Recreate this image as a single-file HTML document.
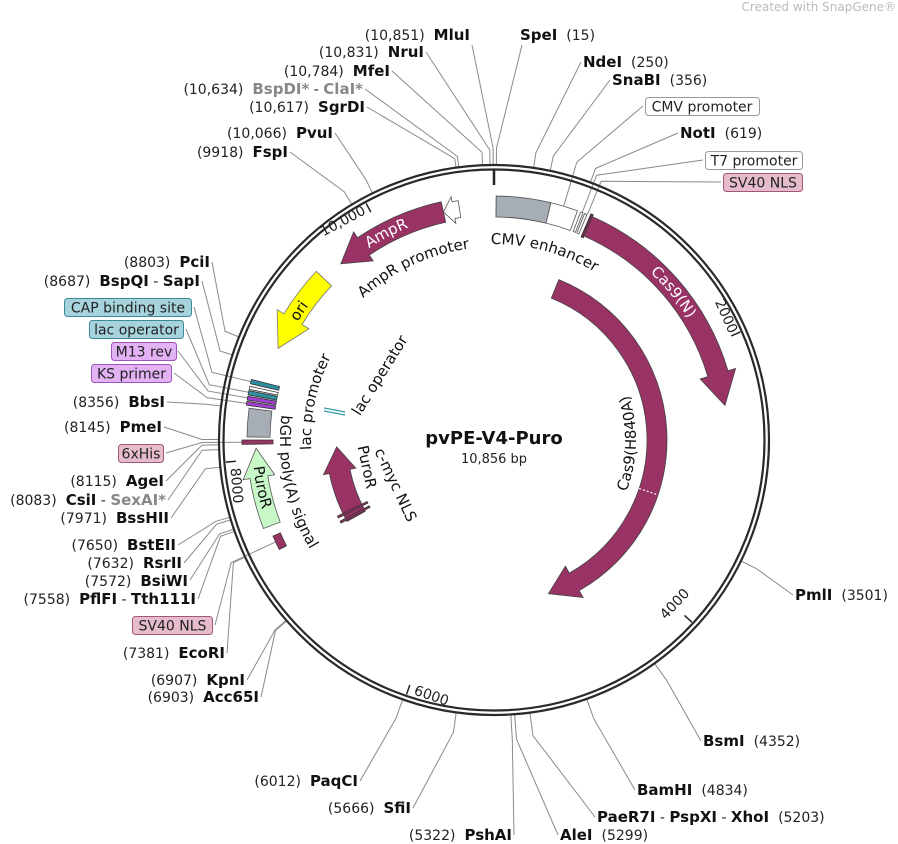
<!DOCTYPE html>
<html><head><meta charset="utf-8">
<style>
html,body{margin:0;padding:0;background:#fff;}
svg{display:block;font-family:"DejaVu Sans","Liberation Sans",sans-serif;}
.n{font-size:14px;fill:#222;}
.b{font-size:15px;font-weight:bold;fill:#111;}
.g{font-size:15px;font-weight:bold;fill:#888;}
.f{font-size:15px;fill:#111;}
.bx{font-size:14px;fill:#222;}
</style></head>
<body>
<svg id="s" width="898" height="844" viewBox="0 0 898 844" xmlns="http://www.w3.org/2000/svg">
<defs>
<path id="tpCMV" d=""/><path id="tpCas" d=""/><path id="tpAmp" d=""/><path id="tpAmpP" d=""/>
<path id="tpOri" d=""/><path id="tpLacP" d=""/><path id="tpBGH" d=""/><path id="tpPuro" d=""/><path id="tpH840" d=""/>
</defs>
<g id="lines" stroke="#8a8a8a" stroke-width="1" fill="none"></g>
<g id="feat"></g>
<circle cx="494" cy="440" r="275" fill="none" stroke="#2a2a2a" stroke-width="2.2"/>
<circle cx="494" cy="440" r="270.5" fill="none" stroke="#2a2a2a" stroke-width="2.2"/>
<g id="ticks" stroke="#222" stroke-width="2"></g>

<text x="896" y="11" text-anchor="end" style="font-size:12px;fill:#bbb">Created with SnapGene®</text>

<text x="494" y="444" text-anchor="middle" style="font-size:18px;font-weight:bold;fill:#111">pvPE-V4-Puro</text>
<text x="494" y="463" text-anchor="middle" style="font-size:13px;fill:#222">10,856 bp</text>

<text class="n" transform="translate(722,318) rotate(66)" text-anchor="middle">2000</text>
<text class="n" transform="translate(678,607) rotate(-47)" text-anchor="middle">4000</text>
<text class="n" transform="translate(430,700) rotate(19)" text-anchor="middle">6000</text>
<text class="n" transform="translate(232,486) rotate(85)" text-anchor="middle">8000</text>
<text class="n" transform="translate(345,225) rotate(-28)" text-anchor="middle">10,000</text>

<text class="f"><textPath href="#tpCMV" startOffset="50%" text-anchor="middle">CMV enhancer</textPath></text>
<text class="f" style="fill:#fff"><textPath href="#tpCas" startOffset="50%" text-anchor="middle">Cas9(N)</textPath></text>
<text class="f" style="fill:#fff"><textPath href="#tpAmp" startOffset="50%" text-anchor="middle">AmpR</textPath></text>
<text class="f"><textPath href="#tpAmpP" startOffset="50%" text-anchor="middle">AmpR promoter</textPath></text>
<text class="f"><textPath href="#tpOri" startOffset="50%" text-anchor="middle">ori</textPath></text>
<text class="f"><textPath href="#tpLacP" startOffset="50%" text-anchor="middle">lac promoter</textPath></text>
<text class="f"><textPath href="#tpBGH" startOffset="50%" text-anchor="middle">bGH poly(A) signal</textPath></text>
<text class="f"><textPath href="#tpPuro" startOffset="50%" text-anchor="middle">PuroR</textPath></text>
<text class="f"><textPath href="#tpH840" startOffset="50%" text-anchor="middle">Cas9(H840A)</textPath></text>
<text class="f" transform="translate(391,487) rotate(65)" text-anchor="middle">c-myc NLS</text>
<text class="f" transform="translate(362,468) rotate(78)" text-anchor="middle">PuroR</text>
<text class="f" transform="translate(384,378) rotate(-58)" text-anchor="middle">lac operator</text>

<text x="470" y="40" text-anchor="end"><tspan class="n">(10,851)</tspan><tspan class="b" dx="9">MluI</tspan></text>
<text x="424" y="57" text-anchor="end"><tspan class="n">(10,831)</tspan><tspan class="b" dx="9">NruI</tspan></text>
<text x="390" y="76" text-anchor="end"><tspan class="n">(10,784)</tspan><tspan class="b" dx="9">MfeI</tspan></text>
<text x="363" y="94" text-anchor="end"><tspan class="n">(10,634)</tspan><tspan class="g" dx="9">BspDI*</tspan><tspan class="n"> - </tspan><tspan class="g">ClaI*</tspan></text>
<text x="365" y="112" text-anchor="end"><tspan class="n">(10,617)</tspan><tspan class="b" dx="9">SgrDI</tspan></text>
<text x="333" y="138" text-anchor="end"><tspan class="n">(10,066)</tspan><tspan class="b" dx="9">PvuI</tspan></text>
<text x="288" y="157" text-anchor="end"><tspan class="n">(9918)</tspan><tspan class="b" dx="9">FspI</tspan></text>
<text x="520" y="40"><tspan class="b">SpeI</tspan><tspan class="n" dx="9">(15)</tspan></text>
<text x="583" y="67"><tspan class="b">NdeI</tspan><tspan class="n" dx="9">(250)</tspan></text>
<text x="612" y="85"><tspan class="b">SnaBI</tspan><tspan class="n" dx="9">(356)</tspan></text>
<text x="680" y="138"><tspan class="b">NotI</tspan><tspan class="n" dx="9">(619)</tspan></text>

<text x="210" y="267" text-anchor="end"><tspan class="n">(8803)</tspan><tspan class="b" dx="9">PciI</tspan></text>
<text x="200" y="286" text-anchor="end"><tspan class="n">(8687)</tspan><tspan class="b" dx="9">BspQI</tspan><tspan class="n"> - </tspan><tspan class="b">SapI</tspan></text>
<text x="165" y="407" text-anchor="end"><tspan class="n">(8356)</tspan><tspan class="b" dx="9">BbsI</tspan></text>
<text x="162" y="432" text-anchor="end"><tspan class="n">(8145)</tspan><tspan class="b" dx="9">PmeI</tspan></text>
<text x="164" y="486" text-anchor="end"><tspan class="n">(8115)</tspan><tspan class="b" dx="9">AgeI</tspan></text>
<text x="166" y="505" text-anchor="end"><tspan class="n">(8083)</tspan><tspan class="b" dx="9">CsiI</tspan><tspan class="n"> - </tspan><tspan class="g">SexAI*</tspan></text>
<text x="169" y="523" text-anchor="end"><tspan class="n">(7971)</tspan><tspan class="b" dx="9">BssHII</tspan></text>
<text x="176" y="550" text-anchor="end"><tspan class="n">(7650)</tspan><tspan class="b" dx="9">BstEII</tspan></text>
<text x="182" y="568" text-anchor="end"><tspan class="n">(7632)</tspan><tspan class="b" dx="9">RsrII</tspan></text>
<text x="188" y="586" text-anchor="end"><tspan class="n">(7572)</tspan><tspan class="b" dx="9">BsiWI</tspan></text>
<text x="196" y="604" text-anchor="end"><tspan class="n">(7558)</tspan><tspan class="b" dx="9">PflFI</tspan><tspan class="n"> - </tspan><tspan class="b">Tth111I</tspan></text>
<text x="225" y="658" text-anchor="end"><tspan class="n">(7381)</tspan><tspan class="b" dx="9">EcoRI</tspan></text>
<text x="245" y="685" text-anchor="end"><tspan class="n">(6907)</tspan><tspan class="b" dx="9">KpnI</tspan></text>
<text x="259" y="702" text-anchor="end"><tspan class="n">(6903)</tspan><tspan class="b" dx="9">Acc65I</tspan></text>
<text x="358" y="786" text-anchor="end"><tspan class="n">(6012)</tspan><tspan class="b" dx="9">PaqCI</tspan></text>
<text x="411" y="813" text-anchor="end"><tspan class="n">(5666)</tspan><tspan class="b" dx="9">SfiI</tspan></text>
<text x="512" y="840" text-anchor="end"><tspan class="n">(5322)</tspan><tspan class="b" dx="9">PshAI</tspan></text>

<text x="795" y="600"><tspan class="b">PmlI</tspan><tspan class="n" dx="9">(3501)</tspan></text>
<text x="703" y="746"><tspan class="b">BsmI</tspan><tspan class="n" dx="9">(4352)</tspan></text>
<text x="637" y="795"><tspan class="b">BamHI</tspan><tspan class="n" dx="9">(4834)</tspan></text>
<text x="597" y="822"><tspan class="b">PaeR7I</tspan><tspan class="n"> - </tspan><tspan class="b">PspXI</tspan><tspan class="n"> - </tspan><tspan class="b">XhoI</tspan><tspan class="n" dx="9">(5203)</tspan></text>
<text x="560" y="840"><tspan class="b">AleI</tspan><tspan class="n" dx="9">(5299)</tspan></text>

<rect x="645.5" y="97.5" width="114" height="18" rx="3" fill="#fff" stroke="#999"/>
<text class="bx" x="702" y="111.5" text-anchor="middle">CMV promoter</text>
<rect x="705.5" y="151.5" width="97" height="18" rx="3" fill="#fff" stroke="#999"/>
<text class="bx" x="754" y="165.5" text-anchor="middle">T7 promoter</text>
<rect x="723.5" y="173.5" width="79" height="18" rx="3" fill="#e6bccd" stroke="#a0587a"/>
<text class="bx" x="763" y="187.5" text-anchor="middle">SV40 NLS</text>
<rect x="64.5" y="298.5" width="127" height="18" rx="3" fill="#a6d3dc" stroke="#3a8a9a"/>
<text class="bx" x="128" y="312.5" text-anchor="middle">CAP binding site</text>
<rect x="89.5" y="320.5" width="94" height="18" rx="3" fill="#a6d3dc" stroke="#3a8a9a"/>
<text class="bx" x="136.5" y="334.5" text-anchor="middle">lac operator</text>
<rect x="111.5" y="342.5" width="65" height="18" rx="3" fill="#e2b2f4" stroke="#9a55b8"/>
<text class="bx" x="144" y="356.5" text-anchor="middle">M13 rev</text>
<rect x="91.5" y="364.5" width="80" height="18" rx="3" fill="#e2b2f4" stroke="#9a55b8"/>
<text class="bx" x="131.5" y="378.5" text-anchor="middle">KS primer</text>
<rect x="118.5" y="444.5" width="45" height="18" rx="3" fill="#e6bccd" stroke="#a0587a"/>
<text class="bx" x="141" y="458.5" text-anchor="middle">6xHis</text>
<rect x="132.5" y="616.5" width="80" height="18" rx="3" fill="#e6bccd" stroke="#a0587a"/>
<text class="bx" x="172.5" y="630.5" text-anchor="middle">SV40 NLS</text>
</svg>
<script>
(function(){
var NS="http://www.w3.org/2000/svg",CX=494,CY=440;
function P(a,r){var t=a*Math.PI/180;return [CX+r*Math.sin(t),CY-r*Math.cos(t)];}
function f(p){return p[0].toFixed(2)+" "+p[1].toFixed(2);}
function arcCW(a1,a2,r){var l=(a2-a1)>180?1:0;return "M"+f(P(a1,r))+" A"+r+" "+r+" 0 "+l+" 1 "+f(P(a2,r));}
function arcCCW(a1,a2,r){var l=(a1-a2)>180?1:0;return "M"+f(P(a1,r))+" A"+r+" "+r+" 0 "+l+" 0 "+f(P(a2,r));}
function band(a1,a2,r1,r2,dir,h,ext){
  var m=(r1+r2)/2,d;
  function A(r,to,sw,span){return " A"+r+" "+r+" 0 "+(span>180?1:0)+" "+sw+" "+f(to);}
  if(dir==0){d="M"+f(P(a1,r2))+A(r2,P(a2,r2),1,a2-a1)+" L"+f(P(a2,r1))+A(r1,P(a1,r1),0,a2-a1)+"Z";}
  else if(dir==1){var b=a2-h;d="M"+f(P(a1,r2))+A(r2,P(b,r2),1,b-a1)+" L"+f(P(b,r2+ext))+" L"+f(P(a2,m))+" L"+f(P(b,r1-ext))+" L"+f(P(b,r1))+A(r1,P(a1,r1),0,b-a1)+"Z";}
  else{var b=a1+h;d="M"+f(P(a2,r2))+A(r2,P(b,r2),0,a2-b)+" L"+f(P(b,r2+ext))+" L"+f(P(a1,m))+" L"+f(P(b,r1-ext))+" L"+f(P(b,r1))+A(r1,P(a2,r1),1,a2-b)+"Z";}
  return d;}
var feat=document.getElementById("feat"),lines=document.getElementById("lines"),ticks=document.getElementById("ticks");
function add(g,tag,at){var e=document.createElementNS(NS,tag);for(var k in at)e.setAttribute(k,at[k]);g.appendChild(e);return e;}
function fb(a1,a2,r1,r2,dir,h,ext,fill,stroke){add(feat,"path",{d:band(a1,a2,r1,r2,dir,h,ext),fill:fill,stroke:stroke||"#444","stroke-width":0.8});}
var M="#993366";
fb(0.5,13.5,223,244,0,0,0,"#a6adb4");
fb(13.5,20,223,244,0,0,0,"#fff","#555");
fb(20.8,21.4,223,244,0,0,0,"#fff","#555");
fb(21.8,22.4,223,244,0,0,0,"#fff","#555");
fb(23.2,23.8,221,246,0,0,0,"#6a2a48","#333");
fb(23.8,81.5,223,244,1,8,8,M);
fb(-41,-12.5,223,244,-1,7,7,M);
fb(-12.5,-8.5,225,242,-1,2.5,5,"#fff","#555");
fb(-67,-46.5,224,245,-1,8,8,"#ffff00","#777");
fb(-77,-76,221,250,0,0,0,"#2f8fa0","#333");
fb(-78.3,-77.6,221,250,0,0,0,"#fff","#333");
fb(-79.6,-78.6,221,250,0,0,0,"#2f8fa0","#333");
fb(-80.8,-79.9,221,250,0,0,0,"#a040d0","#333");
fb(-82,-81.1,221,250,0,0,0,"#a040d0","#333");
fb(-89.3,-82.6,224,247,0,0,0,"#a6adb4","#555");
fb(-91,-90,221,252,0,0,0,M,"#333");
fb(-111,-92,229,247,1,7,7,"#c8f7c8","#555");
fb(-117,-113.5,233,241,0,0,0,M,"#333");
fb(22,160.5,153,173,1,10,8,M);
fb(-119,-92.5,147,168,1,9,6,M);
fb(-118.5,-117.8,141,174,0,0,0,M,"#333");
fb(-116.6,-115.9,141,174,0,0,0,M,"#333");
add(feat,"line",{x1:324,y1:408,x2:345,y2:412,stroke:"#3a98aa","stroke-width":1.2});
add(feat,"line",{x1:324,y1:411,x2:345,y2:415,stroke:"#3a98aa","stroke-width":1.2});
var d1=P(108.5,153),d2=P(108.5,173);
add(feat,"line",{x1:d1[0],y1:d1[1],x2:d2[0],y2:d2[1],stroke:"#fff","stroke-width":1.2,"stroke-dasharray":"2 2"});
var t0=P(0,270),t1=P(0,255);add(ticks,"line",{x1:t0[0],y1:t0[1],x2:t1[0],y2:t1[1],"stroke-width":2.5});
[2000,4000,6000,8000,10000].forEach(function(v){var a=v/10856*360,p=P(a,269),q=P(a,259);add(ticks,"line",{x1:p[0],y1:p[1],x2:q[0],y2:q[1],"stroke-width":1.5});});
function sp(id,d){document.getElementById(id).setAttribute("d",d);}
sp("tpCMV",arcCW(15-40,15+40,196));
sp("tpCas",arcCW(50.5-30,50.5+30,229));
sp("tpAmp",arcCW(-27.5-30,-27.5+30,229));
sp("tpAmpP",arcCW(-25-40,-25+40,193));
sp("tpOri",arcCW(-56.5-20,-56.5+20,229));
sp("tpLacP",arcCW(-78-40,-78+40,183));
sp("tpBGH",arcCCW(-102+40,-102-40,214));
sp("tpPuro",arcCCW(-101.5+25,-101.5-25,242));
sp("tpH840",arcCCW(91.5+40,91.5-40,142));
var L=[
[472,45,-0.17,275,292],[522,45,0.5,275,292],[426,52,-0.83,275,290],[581,62,8.29,275,290],[392,71,-2.39,275,288],
[610,80,11.8,275,290],[365,89,-7.36,275,286],[643,106,16.6,244,290],[367,107,-7.93,275,284],[678,133,20.5,275,290],
[335,133,-26.2,275,290],[703,160,21.2,244,284],[721,182,22.5,244,280],[290,152,-31.1,275,290],
[212,262,-68,275,290],[202,281,-72,275,288],[194,307,-76.5,250,290],[186,329,-79,250,290],[178,351,-80.3,250,290],
[174,373,-81.6,250,290],[167,402,-82.9,275,290],[164,427,-89.9,275,292],[166,453,-90.5,252,292],[166,481,-91,275,292],
[168,500,-92,275,292],[171,518,-95.7,275,290],[178,545,-106.3,275,290],[184,563,-106.9,275,290],[190,580,-108.9,275,290],
[198,599,-109.4,275,290],[215,625,-115,241,290],[227,653,-115.2,275,288],[247,680,-130.95,275,290],[261,697,-131.1,275,290],
[360,781,199.4,275,295],[413,808,187.9,275,295],[514,835,176.5,275,300],[558,835,175.7,275,300],[595,817,172.5,275,298],
[635,790,160.3,275,296],[701,741,144.3,275,296],[793,595,116.1,275,292]];
L.forEach(function(l){var e=P(l[2],l[4]),c=P(l[2],l[3]);add(lines,"polyline",{points:l[0]+","+l[1]+" "+e[0].toFixed(1)+","+e[1].toFixed(1)+" "+c[0].toFixed(1)+","+c[1].toFixed(1)});});
})();
</script>
</body></html>
